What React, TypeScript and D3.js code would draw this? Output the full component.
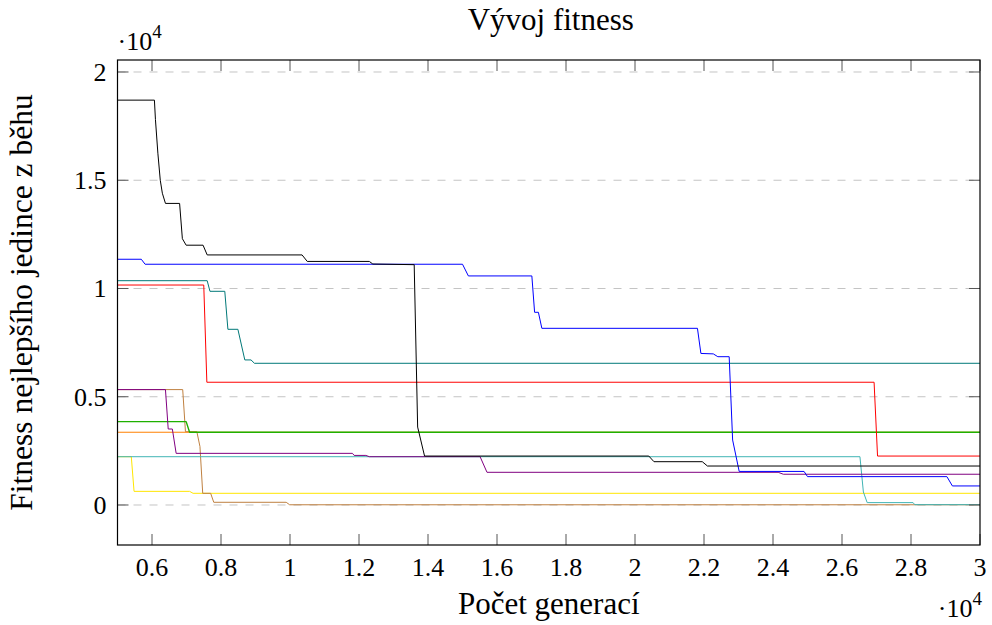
import React from 'react';
import * as d3 from 'd3';

type Pt = [number, number];

const seriesBlack: Pt[] = [[5000,18700],[6070,18700],[6100,17800],[6170,16250],[6240,15000],[6300,14400],[6390,13930],[6800,13930],[6880,12300],[6990,12000],[7480,12000],[7600,11550],[10350,11550],[10500,11250],[12300,11250],[12400,11130],[13600,11100],[13700,3600],[13900,2260],[20400,2260],[20550,2000],[21950,2000],[22100,1800],[30000,1800]];
const seriesBlue: Pt[] = [[5000,11350],[5690,11350],[5800,11120],[15000,11120],[15170,10580],[17010,10580],[17090,8900],[17200,8900],[17300,8160],[21810,8160],[21910,7000],[22270,6980],[22400,6850],[22730,6850],[22830,3000],[23020,1550],[24900,1550],[25000,1310],[29040,1310],[29200,880],[30000,880]];
const seriesRed: Pt[] = [[5000,10160],[7500,10160],[7590,5670],[26930,5670],[27030,2260],[30000,2260]];
const seriesTeal: Pt[] = [[5000,10360],[7600,10360],[7680,9870],[8110,9870],[8200,8115],[8490,8115],[8690,6700],[8870,6700],[8970,6545],[30000,6545]];
const seriesGreen: Pt[] = [[5000,3850],[6990,3850],[7090,3360],[30000,3360]];
const seriesOrange: Pt[] = [[5000,3360],[30000,3360]];
const seriesPurple: Pt[] = [[5000,5330],[6390,5330],[6470,3510],[6590,3510],[6700,2385],[11810,2385],[11860,2290],[12200,2290],[12300,2230],[15510,2230],[15710,1510],[24150,1510],[24300,1420],[30000,1420]];
const seriesBrown: Pt[] = [[5000,5330],[6890,5330],[6970,3385],[7300,3385],[7390,2700],[7470,540],[7700,540],[7790,125],[9890,125],[9990,10],[30000,10]];
const seriesYellow: Pt[] = [[5000,2230],[5400,2230],[5480,630],[7090,630],[7190,540],[30000,540]];
const seriesCyan: Pt[] = [[5000,2230],[26520,2230],[26620,600],[26730,110],[28060,110],[28110,15],[30000,15]];

const xTicks = [6000,8000,10000,12000,14000,16000,18000,20000,22000,24000,26000,28000,30000];
const xTickLabels = ['0.6','0.8','1','1.2','1.4','1.6','1.8','2','2.2','2.4','2.6','2.8','3'];
const yTicks = [0,5000,10000,15000,20000];
const yTickLabels = ['0','0.5','1','1.5','2'];

const titleText = 'Vývoj fitness';
const xLabelText = 'Počet generací';
const yLabelText = 'Fitness nejlepšího jedince z běhu';

const layers: { data: Pt[]; color: string; w: number }[] = [
  { data: seriesYellow, color: '#ffe600', w: 1 },
  { data: seriesBrown, color: '#bf8040', w: 1 },
  { data: seriesOrange, color: '#ff8000', w: 1 },
  { data: seriesGreen, color: '#1fb000', w: 1.4 },
  { data: seriesCyan, color: '#40b4b4', w: 1 },
  { data: seriesPurple, color: '#800080', w: 1 },
  { data: seriesTeal, color: '#007878', w: 1 },
  { data: seriesRed, color: '#ff0000', w: 1 },
  { data: seriesBlue, color: '#0000ff', w: 1 },
  { data: seriesBlack, color: '#000000', w: 1 },
];

export default function App() {
  const L = 117.5, R = 980, T = 60, B = 545;
  const x = d3.scaleLinear().domain([5000, 30000]).range([L, R]);
  const y = d3.scaleLinear().domain([-1848, 20554]).range([B, T]);
  const line = d3.line<Pt>().x(d => x(d[0])).y(d => y(d[1]));
  const font = '"Liberation Serif", serif';
  const tickLen = 11;
  return (
    <svg width={992} height={625} style={{ position: 'absolute', left: 0, top: 0, background: '#fff' }} fontFamily={font}>
      <rect x={0} y={0} width={992} height={625} fill="#fff" />
      {yTicks.map(t => (
        <line key={'g' + t} x1={L} x2={R} y1={y(t)} y2={y(t)} stroke="#c4c4c4" strokeWidth={1} strokeDasharray="8,8" />
      ))}
      <defs>
        <clipPath id="clip"><rect x={L} y={T} width={R - L} height={B - T} /></clipPath>
      </defs>
      <g clipPath="url(#clip)">
        {layers.map((s, i) => (
          <path key={i} d={line(s.data) || ''} fill="none" stroke={s.color} strokeWidth={s.w} strokeLinejoin="round" />
        ))}
      </g>
      {xTicks.map(t => (
        <g key={'xt' + t}>
          <line x1={x(t)} x2={x(t)} y1={B} y2={B - tickLen} stroke="#555" strokeWidth={1} />
          <line x1={x(t)} x2={x(t)} y1={T} y2={T + tickLen} stroke="#555" strokeWidth={1} />
        </g>
      ))}
      {yTicks.map(t => (
        <g key={'yt' + t}>
          <line x1={L} x2={L + tickLen} y1={y(t)} y2={y(t)} stroke="#555" strokeWidth={1} />
          <line x1={R} x2={R - tickLen} y1={y(t)} y2={y(t)} stroke="#555" strokeWidth={1} />
        </g>
      ))}
      <rect x={L} y={T} width={R - L} height={B - T} fill="none" stroke="#000" strokeWidth={1.2} />
      {xTicks.map((t, i) => (
        <text key={'xl' + t} x={x(t)} y={B + 31} textAnchor="middle" fontSize={26}>{xTickLabels[i]}</text>
      ))}
      {yTicks.map((t, i) => (
        <text key={'yl' + t} x={L - 11} y={y(t) + 9} textAnchor="end" fontSize={26}>{yTickLabels[i]}</text>
      ))}
      <text x={L} y={50} fontSize={26}>·10<tspan fontSize={19} dy={-12}>4</tspan></text>
      <text x={R + 2} y={617} fontSize={26} textAnchor="end">·10<tspan fontSize={19} dy={-12}>4</tspan></text>
      <text x={(L + R) / 2 + 2} y={30} fontSize={31} textAnchor="middle">{titleText}</text>
      <text x={(L + R) / 2} y={614} fontSize={31} textAnchor="middle">{xLabelText}</text>
      <text transform={`translate(32, ${(T + B) / 2}) rotate(-90)`} fontSize={31.5} textAnchor="middle">{yLabelText}</text>
    </svg>
  );
}
